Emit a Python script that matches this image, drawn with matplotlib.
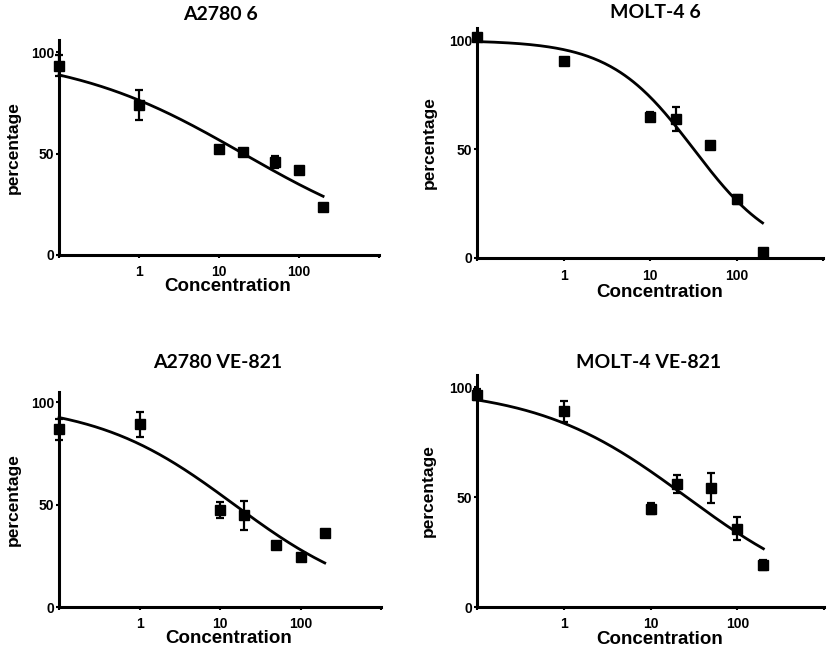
import numpy as np
import matplotlib
matplotlib.use("Agg")
import matplotlib.pyplot as plt

# ============================== Data

titles = ["A2780 6", "MOLT-4 6", "A2780 VE-821", "MOLT-4 VE-821"]
conc = [0.1, 1, 10, 20, 50, 100, 200]

a2780_6_mean = [93.4, 74.1, 52.1, 50.8, 45.9, 42.1, 23.8]
a2780_6_err = [5.0, 7.4, 1.0, 1.0, 2.8, 1.0, 1.0]

molt4_6_mean = [101.5, 90.4, 65.0, 63.9, 52.0, 27.0, 2.8]
molt4_6_err = [1.5, 0.8, 2.0, 5.5, 0.8, 2.0, 0.8]

a2780_ve_mean = [86.7, 89.1, 47.2, 44.7, 30.2, 24.2, 36.0]
a2780_ve_err = [5.0, 6.0, 4.0, 7.0, 0.8, 0.8, 1.8]

molt4_ve_mean = [96.5, 88.9, 44.7, 55.9, 54.1, 35.6, 19.2]
molt4_ve_err = [2.5, 5.0, 2.5, 4.0, 6.8, 5.3, 2.4]

# 4PL fit parameters (top, bottom, EC50, hill)
fit_top = [100, 100, 100, 100]
fit_bottom = [0, 0, 0, 0]
fit_ec50 = [20, 32, 15, 26]
fit_hill = [0.39, 0.9, 0.5, 0.5]

means = [a2780_6_mean, molt4_6_mean, a2780_ve_mean, molt4_ve_mean]
errs = [a2780_6_err, molt4_6_err, a2780_ve_err, molt4_ve_err]

x_ticks = [0.1, 1, 10, 100, 1000]
x_ticklabels = ["", "1", "10", "100", ""]
y_ticks = [0, 50, 100]

# axes boxes in figure fraction, ylim top, label / title positions (pixels)
boxes = [
    [0.0712, 0.6071, 0.3860, 0.3313],
    [0.5754, 0.6025, 0.4174, 0.3544],
    [0.0712, 0.0647, 0.3884, 0.3313],
    [0.5754, 0.0647, 0.4186, 0.3575],
]
ytops = [106, 105.7, 104.9, 105.5]
title_xy = [(220, 15), (655, 13), (218, 362), (649, 363)]
ylabel_px = [13, 429, 13, 428]
xlabel_y = [-0.107, -0.112, -0.107, -0.104]
xtick_pad = [4.5, 5.5, 4.5, 5.0]

W, H = 829, 649
FONT = "Liberation Sans"


def four_pl(x, top, bottom, ec50, hill):
    return bottom + (top - bottom) / (1 + (x / ec50) ** hill)


def main():
    fig = plt.figure(figsize=(W / 100, H / 100), dpi=100)

    for i in range(4):
        bx = boxes[i]
        ax = fig.add_axes(bx)

        xs = np.logspace(np.log10(conc[0]), np.log10(conc[-1]), 200)
        ax.plot(xs, four_pl(xs, fit_top[i], fit_bottom[i], fit_ec50[i], fit_hill[i]),
                color="black", lw=2.0, clip_on=False, zorder=3)

        ax.errorbar(conc, means[i], yerr=errs[i], fmt="s", color="black",
                    ms=6.5, elinewidth=1.6, capsize=3.2, capthick=1.6,
                    clip_on=False, zorder=4)

        ax.set_xscale("log")
        ax.set_xlim(0.1, 1000)
        ax.set_ylim(0, ytops[i])
        ax.set_xticks(x_ticks)
        ax.set_xticklabels(x_ticklabels)
        ax.minorticks_off()
        ax.set_yticks(y_ticks)

        for side in ("top", "right"):
            ax.spines[side].set_visible(False)
        for side in ("left", "bottom"):
            ax.spines[side].set_linewidth(2.2)

        ax.tick_params(axis="both", length=2.5, width=1.5,
                       labelsize=10, direction="out")
        ax.tick_params(axis="x", pad=xtick_pad[i])
        ax.tick_params(axis="y", pad=1)
        for lab in ax.get_xticklabels() + ax.get_yticklabels():
            lab.set_fontfamily(FONT)
            lab.set_fontweight("bold")

        ax.set_xlabel("Concentration", fontsize=13.5, fontweight="bold",
                      fontfamily=FONT)
        ax.xaxis.set_label_coords(0.527, xlabel_y[i])
        ax.set_ylabel("percentage", fontsize=12.5, fontweight="bold",
                      fontfamily=FONT)
        ax.yaxis.set_label_coords((ylabel_px[i] / W - bx[0]) / bx[2], 0.5)
        ax.yaxis.label.set_va("center")

        tx, ty = title_xy[i]
        fig.text(tx / W, 1 - ty / H, titles[i], ha="center", va="center",
                 fontsize=14, fontweight="bold", fontfamily="Lato")

    fig.savefig("out.png", dpi=100)
    plt.close(fig)


if __name__ == "__main__":
    main()
